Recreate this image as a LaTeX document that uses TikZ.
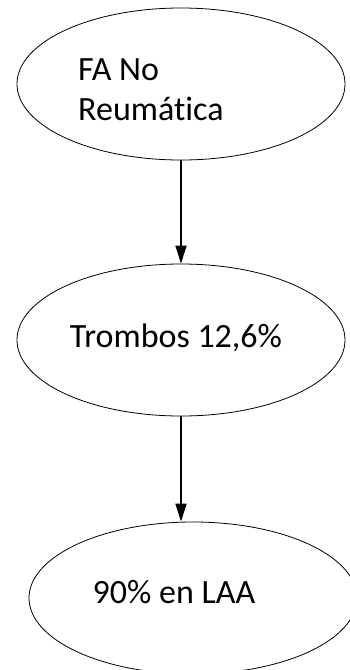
\documentclass[tikz,border=0pt]{standalone}
\usepackage{fontspec}
\setmainfont[Ligatures=NoCommon]{Carlito}
\usetikzlibrary{arrows.meta,%
	shapes.geometric}
\usetikzlibrary{positioning}

\begin{document}
\begin{tikzpicture}[x=1pt,y=-1pt]
		\useasboundingbox (0,0) rectangle (350,670);
		\tikzstyle{Burbuja}=[draw,ellipse,line width=0.8pt,minimum width=328pt,minimum height=152pt,inner sep=0pt]
		\tikzstyle{Texto}=[font=\fontsize{34}{40}\selectfont,align=left,inner sep=0pt]
		\tikzstyle{Flecha}=[-{Triangle[length=18pt,width=11pt]},line width=1.5pt]
		\node[Burbuja] (fa) at (181,84) {};
		\node[Burbuja] (trombos) at (181,340) {};
		\node[Burbuja] (laa) at (193,598) {};
		\node[Texto,anchor=base west] (tfa) at (78,120) {FA No\\Reumática};
		\node[Texto,anchor=base] (ttrombos) at (176,347) {Trombos 12,6\%};
		\node[Texto,anchor=base] (tlaa) at (174,603) {90\% en LAA};
		\draw[Flecha] (fa) -- (trombos);
		\draw[Flecha] (trombos) -- (trombos |- laa.north);
\end{tikzpicture}
\end{document}
